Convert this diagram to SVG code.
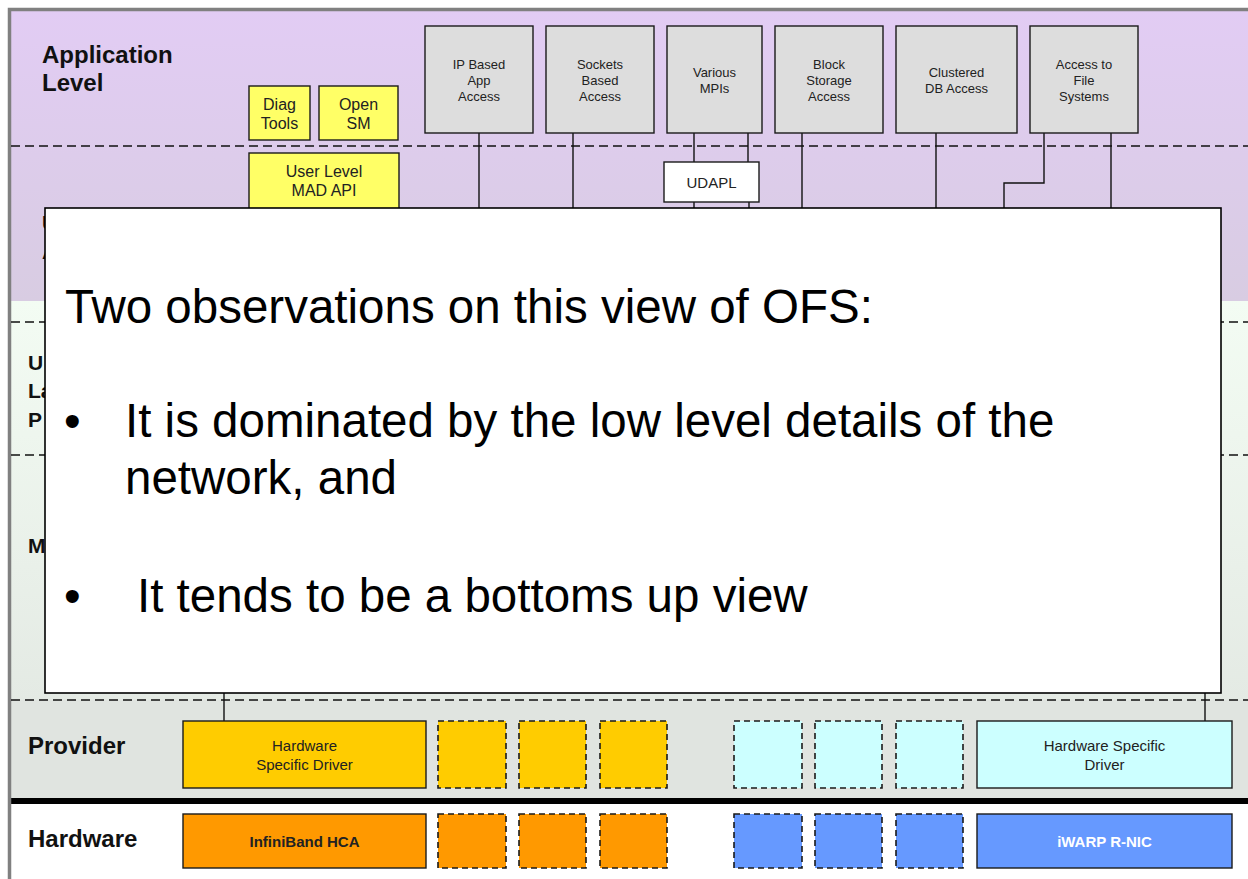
<svg xmlns="http://www.w3.org/2000/svg" width="1248" height="879" viewBox="0 0 1248 879">
<defs>
<linearGradient id="gPurple" x1="0" y1="0" x2="0" y2="1">
<stop offset="0" stop-color="#E2CCF4"/>
<stop offset="1" stop-color="#D8CCE2"/>
</linearGradient>
<linearGradient id="gGreen" x1="0" y1="0" x2="0" y2="1">
<stop offset="0" stop-color="#F3FCF3"/>
<stop offset="1" stop-color="#E4EAE4"/>
</linearGradient>
<style>
.lbl{font-family:"Liberation Sans",Arial,sans-serif;font-weight:bold;font-size:24px;fill:#111}
.lbs{font-family:"Liberation Sans",Arial,sans-serif;font-weight:bold;font-size:21px;fill:#111}
.sm{font-family:"Liberation Sans",Arial,sans-serif;font-size:13px;fill:#222;text-anchor:middle}
.md{font-family:"Liberation Sans",Arial,sans-serif;font-size:16px;fill:#222;text-anchor:middle}
.drv{font-family:"Liberation Sans",Arial,sans-serif;font-size:15px;fill:#222;text-anchor:middle}
.hw{font-family:"Liberation Sans",Arial,sans-serif;font-size:15px;font-weight:bold;text-anchor:middle}
.big{font-family:"Liberation Sans",Arial,sans-serif;font-size:47.5px;fill:#000}
.box{stroke:#1a1a1a;stroke-width:1.4}
.dbox{stroke:#1a1a1a;stroke-width:1.6;stroke-dasharray:6 4}
.sep{stroke:#111;stroke-width:1.5;stroke-dasharray:9 5;fill:none}
.conn{stroke:#111;stroke-width:1.4;fill:none}
</style>
</defs>

<!-- backgrounds -->
<rect x="11" y="11" width="1237" height="290" fill="url(#gPurple)"/>
<rect x="11" y="301" width="1237" height="399" fill="url(#gGreen)"/>
<rect x="11" y="700" width="1237" height="98" fill="#E0E4E0"/>
<rect x="11" y="804" width="1237" height="75" fill="#FFFFFF"/>
<rect x="11" y="798" width="1237" height="6" fill="#000"/>
<path d="M9.5 879 V9.5 H1248" fill="none" stroke="#808080" stroke-width="3.5"/>

<!-- layer separators -->
<g id="separators">
<line class="sep" x1="11" y1="146" x2="1248" y2="146"/>
<line class="sep" x1="11" y1="322" x2="1248" y2="322"/>
<line class="sep" x1="11" y1="455" x2="1248" y2="455"/>
<line class="sep" x1="11" y1="700" x2="1248" y2="700"/>
</g>

<!-- layer labels -->
<g id="labels">
<text class="lbl" x="42" y="63">Application</text>
<text class="lbl" x="42" y="91">Level</text>
<text class="lbs" x="42" y="230">U</text>
<text class="lbs" x="42" y="259">A</text>
<text class="lbs" x="28" y="370">U</text>
<text class="lbs" x="28" y="398">La</text>
<text class="lbs" x="28" y="427">P</text>
<text class="lbs" x="28" y="553">M</text>
<text class="lbl" x="28" y="754">Provider</text>
<text class="lbl" x="28" y="847">Hardware</text>
</g>

<!-- connectors -->
<g id="connectors">
<line class="conn" x1="479" y1="133" x2="479" y2="208"/>
<line class="conn" x1="573" y1="133" x2="573" y2="208"/>
<line class="conn" x1="694" y1="133" x2="694" y2="162"/>
<line class="conn" x1="748" y1="133" x2="748" y2="162"/>
<line class="conn" x1="694" y1="202" x2="694" y2="208"/>
<line class="conn" x1="749" y1="202" x2="749" y2="208"/>
<line class="conn" x1="802" y1="133" x2="802" y2="208"/>
<line class="conn" x1="936" y1="133" x2="936" y2="208"/>
<polyline class="conn" points="1044,133 1044,183 1004,183 1004,208"/>
<line class="conn" x1="1111" y1="133" x2="1111" y2="208"/>
<line class="conn" x1="224" y1="693" x2="224" y2="721"/>
<line class="conn" x1="1205" y1="693" x2="1205" y2="721"/>
</g>

<!-- application nodes -->
<g id="diag-tools">
<rect class="box" x="249" y="86" width="61" height="54" fill="#FFFF66"/>
<text class="md" x="279.5" y="110">Diag</text>
<text class="md" x="279.5" y="129">Tools</text>
</g>
<g id="open-sm">
<rect class="box" x="319" y="86" width="79" height="54" fill="#FFFF66"/>
<text class="md" x="358.5" y="110">Open</text>
<text class="md" x="358.5" y="129">SM</text>
</g>
<g id="user-mad-api">
<rect class="box" x="249" y="153" width="150" height="60" fill="#FFFF66"/>
<text class="md" x="324" y="177">User Level</text>
<text class="md" x="324" y="196">MAD API</text>
</g>
<g id="ip-based">
<rect class="box" x="425" y="26" width="108" height="107" fill="#DDDDDD"/>
<text class="sm" x="479" y="69">IP Based</text>
<text class="sm" x="479" y="85">App</text>
<text class="sm" x="479" y="101">Access</text>
</g>
<g id="sockets-based">
<rect class="box" x="546" y="26" width="108" height="107" fill="#DDDDDD"/>
<text class="sm" x="600" y="69">Sockets</text>
<text class="sm" x="600" y="85">Based</text>
<text class="sm" x="600" y="101">Access</text>
</g>
<g id="various-mpis">
<rect class="box" x="667" y="26" width="95" height="107" fill="#DDDDDD"/>
<text class="sm" x="714.5" y="77">Various</text>
<text class="sm" x="714.5" y="93">MPIs</text>
</g>
<g id="block-storage">
<rect class="box" x="775" y="26" width="108" height="107" fill="#DDDDDD"/>
<text class="sm" x="829" y="69">Block</text>
<text class="sm" x="829" y="85">Storage</text>
<text class="sm" x="829" y="101">Access</text>
</g>
<g id="clustered-db">
<rect class="box" x="896" y="26" width="121" height="107" fill="#DDDDDD"/>
<text class="sm" x="956.5" y="77">Clustered</text>
<text class="sm" x="956.5" y="93">DB Access</text>
</g>
<g id="file-systems">
<rect class="box" x="1030" y="26" width="108" height="107" fill="#DDDDDD"/>
<text class="sm" x="1084" y="69">Access to</text>
<text class="sm" x="1084" y="85">File</text>
<text class="sm" x="1084" y="101">Systems</text>
</g>
<g id="udapl">
<rect class="box" x="664" y="162" width="95" height="40" fill="#FFFFFF"/>
<text class="drv" x="711.5" y="188">UDAPL</text>
</g>

<!-- provider nodes -->
<g id="ib-driver">
<rect class="box" x="183" y="721" width="243" height="67" fill="#FFCC00"/>
<text class="drv" x="304.5" y="751">Hardware</text>
<text class="drv" x="304.5" y="770">Specific Driver</text>
</g>
<g id="ib-driver-slots">
<rect class="dbox" x="438" y="721" width="68" height="67" fill="#FFCC00"/>
<rect class="dbox" x="519" y="721" width="67" height="67" fill="#FFCC00"/>
<rect class="dbox" x="600" y="721" width="67" height="67" fill="#FFCC00"/>
</g>
<g id="iwarp-driver-slots">
<rect class="dbox" x="734" y="721" width="68" height="67" fill="#CCFFFF"/>
<rect class="dbox" x="815" y="721" width="67" height="67" fill="#CCFFFF"/>
<rect class="dbox" x="896" y="721" width="67" height="67" fill="#CCFFFF"/>
</g>
<g id="iwarp-driver">
<rect class="box" x="977" y="721" width="255" height="67" fill="#CCFFFF"/>
<text class="drv" x="1104.5" y="751">Hardware Specific</text>
<text class="drv" x="1104.5" y="770">Driver</text>
</g>

<!-- hardware nodes -->
<g id="ib-hca">
<rect class="box" x="183" y="814" width="243" height="54" fill="#FF9900"/>
<text class="hw" x="304.5" y="847" fill="#222">InfiniBand HCA</text>
</g>
<g id="ib-hca-slots">
<rect class="dbox" x="438" y="814" width="68" height="54" fill="#FF9900"/>
<rect class="dbox" x="519" y="814" width="67" height="54" fill="#FF9900"/>
<rect class="dbox" x="600" y="814" width="67" height="54" fill="#FF9900"/>
</g>
<g id="rnic-slots">
<rect class="dbox" x="734" y="814" width="68" height="54" fill="#6699FF"/>
<rect class="dbox" x="815" y="814" width="67" height="54" fill="#6699FF"/>
<rect class="dbox" x="896" y="814" width="67" height="54" fill="#6699FF"/>
</g>
<g id="iwarp-rnic">
<rect class="box" x="977" y="814" width="255" height="54" fill="#6699FF"/>
<text class="hw" x="1104.5" y="847" fill="#FFFFFF">iWARP R-NIC</text>
</g>

<!-- overlay callout -->
<g id="observations">
<rect x="45" y="208" width="1176" height="485" fill="#FFFFFF" stroke="#000" stroke-width="1.6"/>
<text class="big" x="65" y="323">Two observations on this view of OFS:</text>
<text class="big" x="64" y="437">•</text>
<text class="big" x="125" y="437">It is dominated by the low level details of the</text>
<text class="big" x="125" y="494">network, and</text>
<text class="big" x="64" y="612">•</text>
<text class="big" x="137" y="612">It tends to be a bottoms up view</text>
</g>
</svg>
